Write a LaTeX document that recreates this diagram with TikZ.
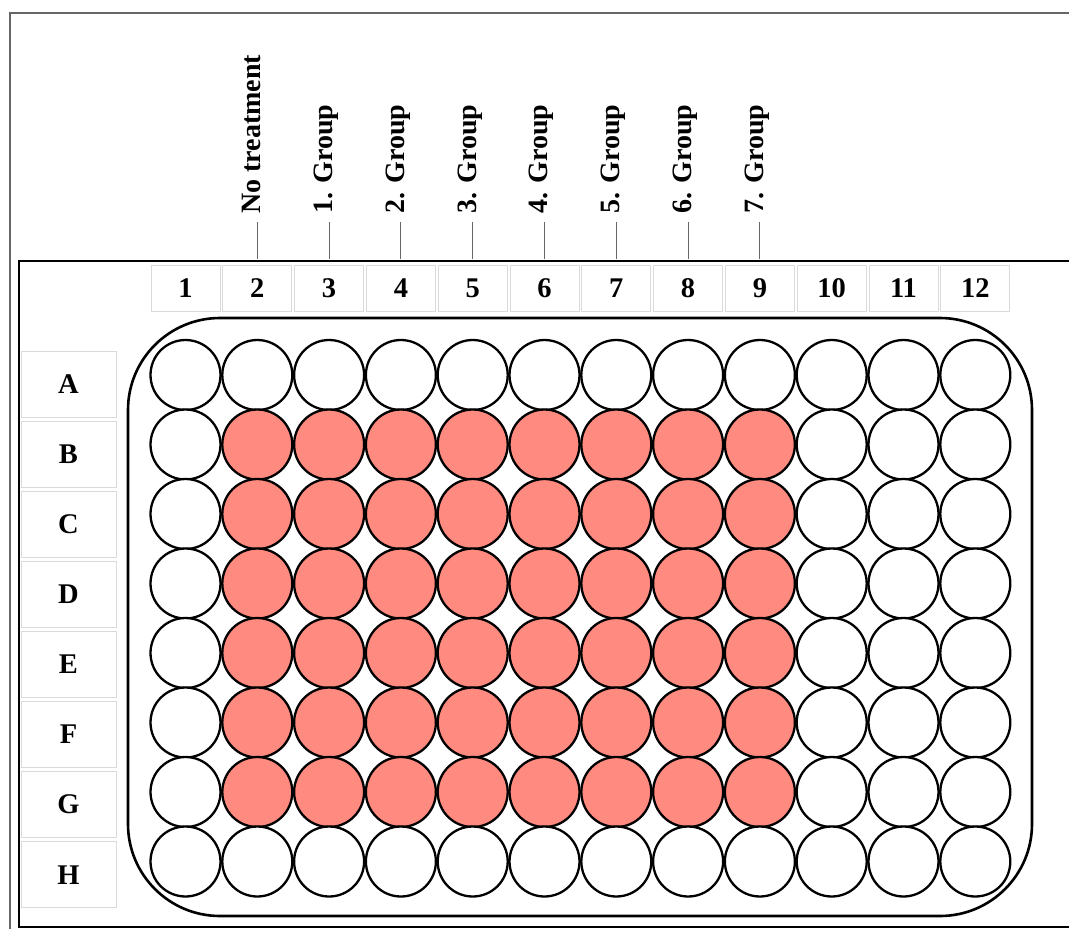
\documentclass[tikz,border=0pt]{standalone}
\usepackage{fontspec}
\setmainfont{Liberation Serif}
\usepackage{tikz}
\usetikzlibrary{positioning}
\definecolor{wellred}{RGB}{255,138,128}
\definecolor{boxgray}{RGB}{218,218,218}

\begin{document}
\begin{tikzpicture}[x=1pt,y=-1pt,
  well/.style={circle,draw,line width=2.3pt,minimum size=70pt,inner sep=0pt},
  colbox/.style={draw=boxgray,line width=0.9pt,minimum width=69pt,minimum height=46pt,inner sep=0pt,font=\fontsize{28.5}{30}\selectfont\bfseries},
  rowbox/.style={draw=boxgray,line width=0.9pt,minimum width=95pt,minimum height=66pt,inner sep=0pt,font=\fontsize{28.5}{30}\selectfont\bfseries},
  grplabel/.style={rotate=90,anchor=west,inner sep=0pt,text height=0.66em,text depth=0pt,font=\fontsize{28}{30}\selectfont\bfseries},
  tick/.style={draw=black!60,line width=1pt}]
  \useasboundingbox (0,0) rectangle (1069,929);
  \clip (0,0) rectangle (1069,929);
  % frames
  \draw[black!60,line width=1.2pt] (1080,13) -- (10,13) -- (10,940);
  \draw[line width=2.8pt] (1080,261) -- (19,261) -- (19,927) -- (1080,927);
  \draw[line width=2.6pt,rounded corners=92pt] (128,318) rectangle (1032,916);
  % column numbers
  \foreach \c in {1,...,12}{
    \node[colbox] (col\c) at ({185.5+71.8*(\c-1)},288) {\c};
  }
  % rows and wells
  \foreach \r [count=\i from 0] in {A,...,H}{
    \node[rowbox] (row\r) at (68.5,{384+70.1*\i}) {\r};
    \foreach \c in {1,...,12}{
      \pgfmathparse{ifthenelse(and(\c>1,\c<10)*and(\i>0,\i<7),"wellred","white")}
      \let\wellcol\pgfmathresult
      \node[well,fill=\wellcol] (\r\c) at ({185.5+71.8*(\c-1)},{375+69.5*\i}) {};
    }
  }
  % group labels
  \foreach \c/\txt in {2/No treatment,3/1. Group,4/2. Group,5/3. Group,6/4. Group,7/5. Group,8/6. Group,9/7. Group}{
    \node[grplabel] (grp\c) at ({185.5+71.8*(\c-1)},214) {\txt};
    \draw[tick] ([yshift=-8pt]grp\c.west) -- ([yshift=6pt]col\c.north);
  }
\end{tikzpicture}
\end{document}
